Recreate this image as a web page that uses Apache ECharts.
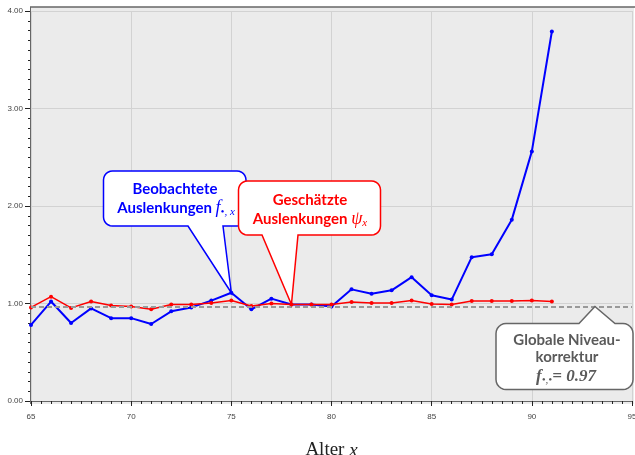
<!DOCTYPE html>
<html><head><meta charset="utf-8">
<script src="https://cdn.jsdelivr.net/npm/echarts@6/dist/echarts.min.js"></script>
<style>html,body{margin:0;padding:0;background:#fff}#c{width:635px;height:455px}</style>
</head><body><div id="c"></div>
<script>
// ---- data ----
const ages = [65,66,67,68,69,70,71,72,73,74,75,76,77,78,79,80,81,82,83,84,85,86,87,88,89,90,91];
const observed = [0.78,1.02,0.80,0.95,0.85,0.85,0.79,0.92,0.96,1.03,1.11,0.94,1.05,0.99,0.99,0.97,1.145,1.10,1.135,1.27,1.085,1.04,1.475,1.505,1.86,2.56,3.79];
const estimated = [0.96,1.07,0.955,1.02,0.98,0.97,0.94,0.99,0.99,1.005,1.03,0.975,1.00,0.99,0.99,0.99,1.015,1.005,1.005,1.03,0.995,0.99,1.025,1.025,1.025,1.03,1.02];
const globalLevel = 0.97;
const xTickValues = [65,70,75,80,85,90,95];
const yTickValues = [0,1,2,3,4];

const chart = echarts.init(document.getElementById('c'));
const pairs = (ys) => ages.map((a,i)=>[a, ys[i]]);

chart.setOption({
  animation:false,
  grid:{left:31,right:3,top:11,bottom:54,containLabel:false,outerBoundsMode:'none'},
  xAxis:{type:'value',min:xTickValues[0],max:xTickValues[xTickValues.length-1],interval:5,offset:3,
    axisLine:{show:true,lineStyle:{color:'#666',width:1}},
    axisTick:{show:true,length:5,lineStyle:{color:'#222'}},
    minorTick:{show:true,splitNumber:10,length:3,lineStyle:{color:'#222'}},
    axisLabel:{fontSize:8,color:'#444',margin:9,fontFamily:'Liberation Sans'},
    splitLine:{show:true,lineStyle:{color:'#d2d2d2',width:1}},
    name:'{n|Alter }{i|x}',nameLocation:'middle',nameGap:37,
    nameTextStyle:{rich:{n:{fontFamily:'Liberation Serif',fontSize:19,color:'#222'},i:{fontFamily:'Liberation Serif',fontStyle:'italic',fontSize:19,color:'#222'}}}
  },
  yAxis:{type:'value',min:yTickValues[0],max:yTickValues[yTickValues.length-1],interval:1,offset:1,
    axisLine:{show:false},
    axisTick:{show:true,length:5,lineStyle:{color:'#222'}},
    minorTick:{show:true,splitNumber:10,length:2,lineStyle:{color:'#222'}},
    axisLabel:{fontSize:8,color:'#444',margin:7,fontFamily:'Liberation Sans',formatter:(v)=>v.toFixed(2)},
    splitLine:{show:true,lineStyle:{color:'#d2d2d2',width:1}}
  },
  series:[
    {type:'line',data:pairs(observed),symbol:'circle',symbolSize:4,color:'#0000ff',
      lineStyle:{color:'#0000ff',width:2},itemStyle:{color:'#0000ff'},z:3,
      markLine:{silent:true,symbol:'none',label:{show:false},
        lineStyle:{color:'#999',width:2,type:[5,3]},data:[{yAxis:globalLevel}]}},
    {type:'line',data:pairs(estimated),symbol:'circle',symbolSize:4,color:'#ff0000',
      lineStyle:{color:'#ff0000',width:1.5},itemStyle:{color:'#ff0000'},z:4}
  ]
});

function callout(x,y,w,h,r,side,b1,b2,ax,ay){
  const pts=[];
  const arc=(cx,cy,a0,a1)=>{for(let k=0;k<=6;k++){const a=(a0+(a1-a0)*k/6)*Math.PI/180;pts.push([cx+r*Math.cos(a),cy+r*Math.sin(a)]);}};
  if(side==='top'){pts.push([x+r,y],[b1,y],[ax,ay],[b2,y]);}
  arc(x+w-r,y+r,-90,0);
  arc(x+w-r,y+h-r,0,90);
  if(side==='bottom'){pts.push([b2,y+h],[ax,ay],[b1,y+h]);}
  arc(x+r,y+h-r,90,180);
  arc(x+r,y+r,180,270);
  return pts;
}
function txt(x,y,text,rich,z){
  return {type:'text',z:z,style:{x:x,y:y,text:text,rich:rich,align:'center',verticalAlign:'middle'}};
}
function boldRich(col){
  return {
    a:{fontFamily:'Lato',fontWeight:'bold',fontSize:15,fill:col,color:col},
    f:{fontFamily:'Liberation Serif',fontStyle:'italic',fontSize:18,fill:col,color:col},
    s:{fontFamily:'Liberation Serif',fontStyle:'italic',fontSize:11,fill:col,color:col,verticalAlign:'bottom'},
    g:{fontFamily:'Liberation Serif',fontStyle:'italic',fontWeight:'bold',fontSize:17,fill:col,color:col}
  };
}

const pBlue = chart.convertToPixel({gridIndex:0},[ages[10],observed[10]]);
const pRed = chart.convertToPixel({gridIndex:0},[ages[13],estimated[13]]);
const pGray = chart.convertToPixel({gridIndex:0},[93.15,globalLevel]);
const blueC='#0000ff', redC='#ff0000', grayC='#5a5a5a';

chart.setOption({graphic:[
  {type:'rect',z:-100,silent:true,shape:{x:30,y:7,width:604,height:397},style:{fill:'#ebebeb'}},
  {type:'line',z:-50,silent:true,shape:{x1:30,y1:7,x2:635,y2:7},style:{stroke:'#666',lineWidth:1.5}},
  {type:'line',z:-50,silent:true,shape:{x1:30.5,y1:7,x2:30.5,y2:404},style:{stroke:'#666',lineWidth:1}},
  {type:'polygon',z:100,shape:{points:callout(103.5,171,142.5,55,9,'bottom',188,223,pBlue[0],pBlue[1])},style:{fill:'#fff',stroke:blueC,lineWidth:1.5}},
  txt(175,189.5,'{a|Beobachtete}',boldRich(blueC),101),
  txt(176,208.5,'{a|Auslenkungen }{f|f}{s|•, x}',boldRich(blueC),101),
  {type:'polygon',z:102,shape:{points:callout(238.5,181,142,54,9,'bottom',262,298,pRed[0],pRed[1])},style:{fill:'#fff',stroke:redC,lineWidth:1.5}},
  txt(310,200,'{a|Geschätzte}',boldRich(redC),103),
  txt(310,219.5,'{a|Auslenkungen }{f|ψ}{s|x}',boldRich(redC),103),
  {type:'polygon',z:100,shape:{points:callout(496,323.5,137,66,10,'top',579,615,pGray[0],pGray[1])},style:{fill:'#fff',stroke:'#666',lineWidth:1.5}},
  txt(567,340,'{a|Globale Niveau-}',boldRich(grayC),101),
  txt(567,357.5,'{a|korrektur}',boldRich(grayC),101),
  txt(566,377,'{g|f}{s|•,•}{g|= 0.97}',boldRich(grayC),101)
]});
</script></body></html>
